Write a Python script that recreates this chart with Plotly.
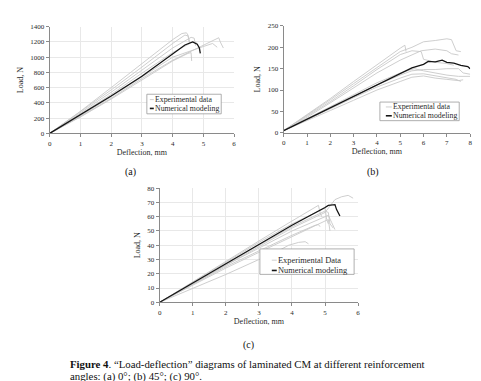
import plotly.graph_objects as go

W, H = 481, 381
FONT = "Liberation Serif"

# ---------------- data ----------------
# Panel (a): 0 deg
a_exp = [
    [(0, 0), (1, 290), (2, 600), (3, 920), (4, 1230), (4.3, 1310), (4.45, 1320), (4.5, 1290), (4.55, 1200)],
    [(0, 0), (1, 280), (2, 570), (3, 870), (4, 1180), (4.4, 1290), (4.5, 1280), (4.55, 1180)],
    [(0, 0), (1, 265), (2, 540), (3, 830), (4, 1120), (4.6, 1260), (4.7, 1250), (4.75, 1150)],
    [(0, 0), (1, 250), (2, 510), (3, 790), (4, 1060), (4.7, 1210), (4.8, 1180)],
    [(0, 0), (1, 220), (2, 460), (3, 720), (4, 960), (5, 1160), (5.3, 1210), (5.5, 1255), (5.55, 1200), (5.65, 1120)],
    [(0, 0), (1, 215), (2, 450), (3, 700), (4, 950), (4.5, 1050), (4.6, 1060), (4.62, 950)],
    [(0, 0), (1, 230), (2, 480), (3, 740), (4, 1000), (5, 1140), (5.3, 1180), (5.45, 1130)],
]
a_num = [(0, 0), (0.5, 120), (1, 245), (2, 490), (3, 750), (4, 1040), (4.4, 1160),
         (4.65, 1200), (4.8, 1170), (4.87, 1120), (4.9, 1050)]

# Panel (b): 45 deg
b_exp = [
    [(0, 5), (1, 42), (2, 80), (3, 120), (4, 160), (5, 198), (5.2, 205), (5.25, 190)],
    [(0, 5), (1, 40), (2, 77), (3, 115), (4, 153), (5, 190), (5.5, 200), (6, 213), (6.5, 216),
     (7, 220), (7.2, 218), (7.3, 205), (7.4, 192), (7.6, 190)],
    [(0, 5), (1, 38), (2, 73), (3, 110), (4, 148), (5, 183), (5.5, 192), (5.9, 190), (6, 172),
     (6.5, 165), (7, 162), (7.3, 158)],
    [(0, 5), (1, 36), (2, 70), (3, 105), (4, 140), (5, 170), (5.5, 182), (5.9, 192), (6.5, 196),
     (7, 192), (7.2, 185), (7.5, 182)],
    [(0, 5), (1, 28), (2, 52), (3, 76), (4, 100), (5, 120), (5.5, 130), (6, 133), (6.5, 128),
     (7, 125), (7.5, 122), (7.7, 124)],
    [(0, 5), (1, 30), (2, 56), (3, 82), (4, 107), (5, 128), (5.5, 137), (6, 138), (6.5, 133),
     (7, 128), (7.4, 125), (7.6, 120)],
    [(0, 5), (1, 31), (2, 58), (3, 85), (4, 112), (5, 135), (5.5, 145), (6, 148), (6.5, 148),
     (7, 150), (7.5, 150), (7.7, 140), (8, 137)],
    [(0, 5), (1, 33), (2, 61), (3, 89), (4, 117), (5, 140), (5.6, 150), (6, 145), (6.5, 140),
     (7, 135), (7.5, 132), (8, 132)],
]
b_num = [(0, 5), (1, 32), (2, 58), (3, 85), (4, 113), (5, 140), (5.5, 152), (6, 160), (6.2, 167),
         (6.5, 166), (6.8, 170), (7, 165), (7.3, 163), (7.6, 158), (7.9, 155), (8, 150)]

# Panel (c): 90 deg
c_exp = [
    [(0, 0), (1, 14.5), (2, 29), (3, 43), (4, 57), (4.7, 67), (4.8, 68), (4.85, 63), (4.9, 60)],
    [(0, 0), (1, 14), (2, 28), (3, 42), (4, 55), (4.9, 65), (5.0, 66), (5.05, 58), (5.1, 55)],
    [(0, 0), (1, 13.5), (2, 27), (3, 40), (4, 53), (5.0, 64), (5.1, 63), (5.15, 55), (5.25, 52)],
    [(0, 0), (1, 13), (2, 26), (3, 38), (4, 50), (5.0, 60), (5.1, 61), (5.2, 56), (5.3, 51)],
    [(0, 0), (1, 12.5), (2, 25), (3, 36), (4, 47), (4.7, 54), (4.8, 54.5), (4.85, 53)],
    [(0, 0), (1, 13), (2, 26), (3, 39), (4, 52), (5, 63), (5.3, 72), (5.5, 74), (5.7, 75), (5.85, 73)],
    [(0, 0), (1, 12), (2, 24), (3, 35), (4, 46), (4.5, 52), (5.0, 57), (5.1, 58), (5.15, 50)],
    [(0, 0), (1, 9.5), (2, 19.5), (3, 30), (3.5, 35), (3.9, 40), (4.2, 42), (4.4, 42.5), (4.5, 41)],
]
c_num = [(0, 0), (1, 13.5), (2, 27), (3, 40.5), (4, 54), (5, 66.5), (5.1, 68), (5.3, 68.5),
         (5.35, 65), (5.45, 60.5)]

a_xticks = [0, 1, 2, 3, 4, 5, 6]
a_yticks = [0, 200, 400, 600, 800, 1000, 1200, 1400]
b_xticks = [0, 1, 2, 3, 4, 5, 6, 7, 8]
b_yticks = [0, 50, 100, 150, 200, 250]
c_xticks = [0, 1, 2, 3, 4, 5, 6]
c_yticks = [0, 10, 20, 30, 40, 50, 60, 70, 80]

x_title = "Deflection, mm"
y_title = "Load, N"
legend_a = ["Experimental data", "Numerical modeling"]
legend_b = ["Experimental data", "Numerical modeling"]
legend_c = ["Experimental Data", "Numerical modeling"]
panel_labels = ["(a)", "(b)", "(c)"]
caption1 = "<b>Figure 4</b>. \u201cLoad-deflection\u201d diagrams of laminated CM at different reinforcement"
caption2 = "angles: (a) 0\u00b0; (b) 45\u00b0; (c) 90\u00b0."

# ---------------- helpers ----------------
def px(x):
    return x / W

def py(y):
    return 1 - y / H

EXP_COLOR = "#c8c8c8"
NUM_COLOR = "#151515"
TXT = "#2a2a2a"

fig = go.Figure()

def add_panel(exp, num, xa, ya):
    for cur in exp:
        fig.add_trace(go.Scatter(x=[p[0] for p in cur], y=[p[1] for p in cur], mode="lines",
                                 line=dict(color=EXP_COLOR, width=0.9), xaxis=xa, yaxis=ya,
                                 showlegend=False, hoverinfo="skip"))
    fig.add_trace(go.Scatter(x=[p[0] for p in num], y=[p[1] for p in num], mode="lines",
                             line=dict(color=NUM_COLOR, width=1.3), xaxis=xa, yaxis=ya,
                             showlegend=False, hoverinfo="skip"))

add_panel(a_exp, a_num, "x", "y")
add_panel(b_exp, b_num, "x2", "y2")
add_panel(c_exp, c_num, "x3", "y3")

def axis(domain, rng, ticks, grid, fs=7, title=None, standoff=2):
    d = dict(domain=domain, range=rng, tickvals=ticks, showline=True, linecolor="#8a8a8a",
             linewidth=1, ticks="outside", ticklen=3, tickcolor="#8a8a8a", showgrid=grid,
             gridcolor="#e8e8e8", gridwidth=0.8, zeroline=False, fixedrange=True,
             tickfont=dict(family=FONT, size=fs, color=TXT))
    if title:
        d["title"] = dict(text=title, font=dict(family=FONT, size=8, color=TXT), standoff=standoff)
    return d

ax_a = [px(40), px(226)]
ay_a = [py(124), py(15)]
ax_b = [px(276), px(464)]
ay_b = [py(123.3), py(14.3)]
ax_c = [px(151), px(351)]
ay_c = [py(296.5), py(180)]

fig.update_layout(
    width=W, height=H, margin=dict(l=0, r=0, t=0, b=0),
    paper_bgcolor="white", plot_bgcolor="white", showlegend=False,
    xaxis=axis(ax_a, [0, 6], a_xticks, True, title=x_title, standoff=1),
    yaxis=axis(ay_a, [0, 1400], a_yticks, True, title=y_title, standoff=5),
    xaxis2=axis(ax_b, [0, 8], b_xticks, False, title=x_title, standoff=1),
    yaxis2=axis(ay_b, [0, 250], b_yticks, False, title=y_title, standoff=5),
    xaxis3=axis(ax_c, [0, 6], c_xticks, True, title=x_title, standoff=1),
    yaxis3=axis(ay_c, [0, 80], c_yticks, True, title=y_title, standoff=5),
)
for k in ["xaxis", "xaxis2", "xaxis3"]:
    fig.layout[k].anchor = {"xaxis": "y", "xaxis2": "y2", "xaxis3": "y3"}[k]
for k in ["yaxis", "yaxis2", "yaxis3"]:
    fig.layout[k].anchor = {"yaxis": "x", "yaxis2": "x2", "yaxis3": "x3"}[k]

shapes = []
annotations = []

def legend(box, rows, labels, fs):
    x0, y0, x1, y1 = box
    shapes.append(dict(type="rect", xref="paper", yref="paper", x0=px(x0), x1=px(x1),
                       y0=py(y1), y1=py(y0), line=dict(color="#9a9a9a", width=0.8),
                       fillcolor="white", layer="above"))
    (lx0, lx1, tx) = rows[0]
    for i, (yy, lab) in enumerate(zip(rows[1], labels)):
        col = EXP_COLOR if i == 0 else NUM_COLOR
        wd = 0.9 if i == 0 else 1.6
        shapes.append(dict(type="line", xref="paper", yref="paper", x0=px(lx0), x1=px(lx1),
                           y0=py(yy), y1=py(yy), line=dict(color=col, width=wd), layer="above"))
        annotations.append(dict(text=lab, xref="paper", yref="paper", x=px(tx), y=py(yy),
                                xanchor="left", yanchor="middle", showarrow=False,
                                font=dict(family=FONT, size=fs, color=TXT)))

legend((138, 84, 213, 104), ((141, 145, 144.5), (89.5, 98.5)), legend_a, 7.8)
legend((373, 92, 453, 111), ((379, 385, 384.5), (97, 106)), legend_b, 7.8)
legend((252, 242, 347, 268), ((264, 269, 268.5), (253.5, 264)), legend_c, 8.4)

for lab, (x, y) in zip(panel_labels, [(122, 163), (366, 163), (240, 340)]):
    annotations.append(dict(text=lab, xref="paper", yref="paper", x=px(x), y=py(y),
                            xanchor="center", yanchor="middle", showarrow=False,
                            font=dict(family=FONT, size=10, color="#111")))

annotations.append(dict(text=caption1, xref="paper", yref="paper", x=px(58), y=py(360),
                        xanchor="left", yanchor="middle", showarrow=False,
                        font=dict(family=FONT, size=10.8, color="#111")))
annotations.append(dict(text=caption2, xref="paper", yref="paper", x=px(58), y=py(372),
                        xanchor="left", yanchor="middle", showarrow=False,
                        font=dict(family=FONT, size=10.8, color="#111")))

fig.update_layout(shapes=shapes, annotations=annotations)
fig.write_html("out.html")
